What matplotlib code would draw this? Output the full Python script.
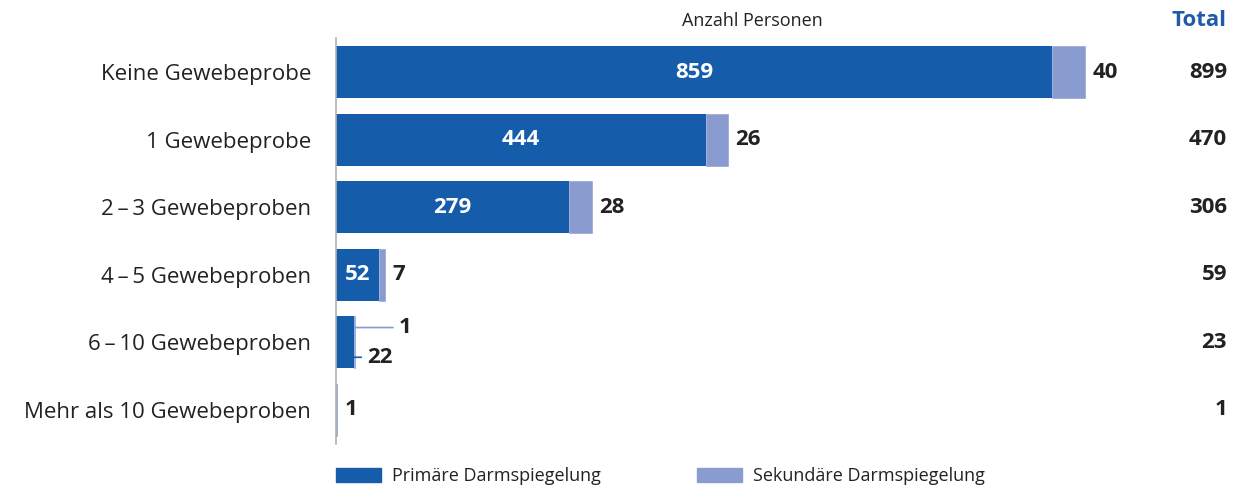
import matplotlib.pyplot as plt
from matplotlib.patches import Rectangle

plt.rcParams['font.family'] = ['Open Sans', 'DejaVu Sans']

DASH = "\u2009\u2013\u2009"
categories = ["Keine Gewebeprobe", "1 Gewebeprobe", "2" + DASH + "3 Gewebeproben",
              "4" + DASH + "5 Gewebeproben", "6" + DASH + "10 Gewebeproben",
              "Mehr als 10 Gewebeproben"]
primary = [859, 444, 279, 52, 22, 0]
secondary = [40, 26, 28, 7, 1, 1]
totals = [899, 470, 306, 59, 23, 1]

C_PRIM = "#155dab"
C_SEC = "#8a9bd0"
C_TXT = "#222222"

fig = plt.figure(figsize=(12.37, 4.88), dpi=100)
ax = fig.add_axes([336 / 1237, 0.0906, 901 / 1237, 0.831])

y = list(range(len(categories)))
ax.barh(y, primary, height=0.77, color=C_PRIM)
ax.barh(y, secondary, left=primary, height=0.77, color=C_SEC,
        edgecolor=C_SEC, linewidth=0.4)
ax.set_ylim(5.5, -0.5)
ax.set_xlim(0, 1081)

for s in ["top", "right", "bottom"]:
    ax.spines[s].set_visible(False)
ax.spines["left"].set_color("#b0b0b0")
ax.spines["left"].set_linewidth(1.2)
ax.set_xticks([])
ax.set_yticks(y)
ax.set_yticklabels(categories, fontsize=16, color=C_TXT)
ax.tick_params(axis="y", length=0, pad=18)

for i in y:
    p, s, t = primary[i], secondary[i], totals[i]
    if p >= 40:
        ax.text(p / 2, i, str(p), ha="center", va="center", color="white",
                fontsize=16, fontweight="bold")
    if i == 4:
        # small bar: labels with leader lines
        ax.annotate(str(s), xy=(p + s, i - 0.22), xytext=(p + s + 52, i - 0.22),
                    ha="left", va="center", fontsize=16, fontweight="bold", color=C_TXT,
                    arrowprops=dict(arrowstyle="-", color=C_SEC, lw=1.2,
                                    shrinkA=2, shrinkB=0))
        ax.annotate(str(p), xy=(p, i + 0.22), xytext=(p + 15, i + 0.22),
                    ha="left", va="center", fontsize=16, fontweight="bold", color=C_TXT,
                    arrowprops=dict(arrowstyle="-", color=C_PRIM, lw=1.2,
                                    shrinkA=2, shrinkB=0))
    else:
        ax.text(p + s + 9, i, str(s), ha="left", va="center", color=C_TXT,
                fontsize=16, fontweight="bold")
    ax.text(1069, i, str(t), ha="right", va="center", color=C_TXT,
            fontsize=16, fontweight="bold")

fig.text(752 / 1237, 1 - 21 / 488, "Anzahl Personen", ha="center", va="center",
         fontsize=13, color=C_TXT)
fig.text(1226 / 1237, 1 - 20 / 488, "Total", ha="right", va="center",
         fontsize=16, fontweight="bold", color="#1f5baa")

# legend
for x0, col, lab in [(336, C_PRIM, "Primäre Darmspiegelung"),
                     (697, C_SEC, "Sekundäre Darmspiegelung")]:
    fig.patches.append(Rectangle((x0 / 1237, 1 - 482 / 488), 45 / 1237, 14 / 488,
                                 transform=fig.transFigure, color=col))
    fig.text((x0 + 56) / 1237, 1 - 476 / 488, lab, ha="left", va="center",
             fontsize=13, color=C_TXT)

fig.savefig("out.png", dpi=100)
